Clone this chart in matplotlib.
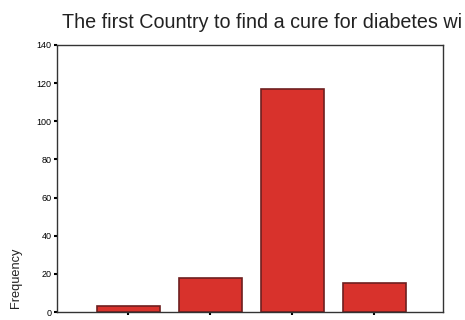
import matplotlib.pyplot as plt
import numpy as np

plt.rcParams['font.family'] = ['Liberation Sans', 'DejaVu Sans']

# data
categories = ['A', 'B', 'C', 'D']
counts = [3, 18, 117, 15]
yticks = [0, 20, 40, 60, 80, 100, 120, 140]

fig = plt.figure(figsize=(4.65, 3.2), dpi=100)
ax = fig.add_axes([57 / 465, 1 - 312 / 320, (443 - 57) / 465, (312 - 45) / 320])

x = np.arange(len(categories))
ax.bar(x, counts, width=0.77, color='#d8322c', edgecolor='#6e1f1f', linewidth=1.2)

ax.set_xlim(-0.87, 3.84)
ax.set_ylim(0, 140)
ax.set_yticks(yticks)
ax.set_yticklabels([str(v) for v in yticks], fontsize=6.5)
ax.set_xticks(x)
ax.set_xticklabels([])
ax.tick_params(axis='y', length=2, width=1.5, pad=2)
ax.tick_params(axis='x', length=2, width=1.5, direction='out')
for s in ax.spines.values():
    s.set_linewidth(1.0)
    s.set_color('#333333')

fig.text(62 / 465, 1 - 28 / 320, 'The first Country to find a cure for diabetes wi',
         fontsize=14.2, ha='left', va='baseline', color='#222222')
fig.text(16 / 465, 1 - 308 / 320, 'Frequency', rotation=90, fontsize=9.2,
         ha='center', va='bottom', color='#222222')

fig.savefig('out.png', dpi=100)
